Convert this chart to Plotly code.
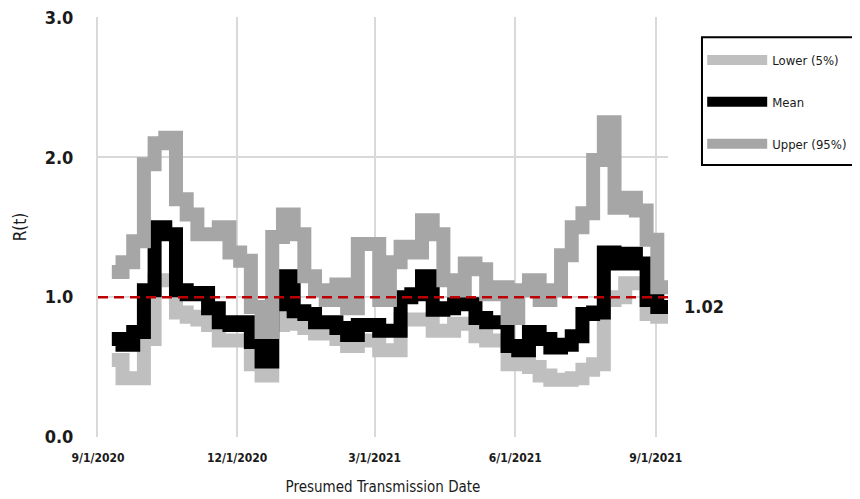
import plotly.graph_objects as go
import pandas as pd

dates = pd.date_range("2020-09-10", "2021-09-02", freq="7D").strftime("%Y-%m-%d").tolist() + ["2021-09-09"]

lower = [0.55, 0.42, 0.42, 0.70, 1.12, 1.12, 0.89, 0.86, 0.84, 0.80, 0.69, 0.69,
         0.69, 0.52, 0.44, 0.80, 0.94, 0.81, 0.78, 0.74, 0.74, 0.70, 0.65, 0.69,
         0.69, 0.62, 0.62, 0.84, 0.84, 0.84, 0.76, 0.76, 0.81, 0.81, 0.72, 0.69,
         0.69, 0.52, 0.55, 0.50, 0.44, 0.41, 0.41, 0.42, 0.48, 0.52, 0.98, 1.00,
         1.10, 1.10, 0.88, 0.86, 0.86]
mean = [0.70, 0.66, 0.75, 1.05, 1.50, 1.45, 1.05, 1.02, 1.03, 0.92, 0.82, 0.80,
        0.82, 0.68, 0.54, 0.95, 1.15, 0.90, 0.88, 0.82, 0.82, 0.78, 0.73, 0.80,
        0.80, 0.76, 0.76, 1.00, 1.02, 1.15, 0.91, 0.92, 0.95, 0.95, 0.85, 0.82,
        0.82, 0.65, 0.62, 0.75, 0.70, 0.64, 0.66, 0.72, 0.88, 0.89, 1.32, 1.24,
        1.31, 1.24, 0.98, 0.93, 0.93]
upper = [1.18, 1.25, 1.40, 1.95, 2.10, 2.14, 1.70, 1.59, 1.45, 1.45, 1.50, 1.32,
         1.26, 0.93, 0.75, 1.43, 1.59, 1.45, 1.15, 1.05, 0.98, 1.09, 0.92, 1.38,
         1.38, 0.98, 1.25, 1.36, 1.32, 1.55, 1.45, 1.12, 1.05, 1.24, 1.20, 1.02,
         1.07, 0.85, 1.05, 1.12, 0.98, 1.05, 1.30, 1.50, 1.60, 1.98, 2.25, 1.64,
         1.71, 1.62, 1.41, 1.07, 1.07]

series_names = ["Lower (5%)", "Mean", "Upper (95%)"]
series_colors = ["#bfbfbf", "#000000", "#a6a6a6"]

tick_dates = ["2020-09-01", "2020-12-01", "2021-03-01", "2021-06-01", "2021-09-01"]
tick_text = ["9/1/2020", "12/1/2020", "3/1/2021", "6/1/2021", "9/1/2021"]
y_ticks = [0, 1, 2, 3]
threshold = 1.0
latest_label = "1.02"

FONT = "Liberation Sans Narrow, DejaVu Sans Condensed, Roboto, sans-serif"
TXT = "#1a1a1a"

fig = go.Figure()
for i, (name, vals, col) in enumerate(zip(series_names, [lower, mean, upper], series_colors)):
    fig.add_trace(go.Scatter(
        x=dates, y=vals, name=name, mode="lines",
        line=dict(color=col, width=14, shape="hv"),
        legendgroup=f"g{i}",
    ))

fig.add_shape(type="line", xref="paper", yref="y", x0=0, x1=1, y0=threshold, y1=threshold,
              line=dict(color="#c00000", width=2.5, dash="10px,6px"), layer="above")

# legend frame
fig.add_shape(type="rect", xref="paper", yref="paper", x0=1.0596, x1=1.3298, y0=0.6476, y1=0.952,
              line=dict(color="#000000", width=2), fillcolor="rgba(0,0,0,0)", layer="above")

fig.add_annotation(x=1.0, xref="paper", y=0.93, yref="y", text=latest_label,
                   showarrow=False, xanchor="left", xshift=14,
                   font=dict(family=FONT, size=18, color=TXT, weight="bold"))

fig.update_layout(
    width=852, height=491,
    margin=dict(l=90, r=192, t=9, b=62, autoexpand=False),
    paper_bgcolor="white", plot_bgcolor="white",
    font=dict(family=FONT, color=TXT),
    showlegend=True,
    legend=dict(x=1.06, y=0.9334, xanchor="left", yanchor="top",
                borderwidth=0, bgcolor="rgba(0,0,0,0)",
                font=dict(family=FONT, size=13, color=TXT),
                tracegroupgap=22, itemwidth=60),
    xaxis=dict(range=["2020-08-31 23:00", "2021-09-09"], tickvals=tick_dates, ticktext=tick_text,
               showgrid=True, gridcolor="#d9d9d9", gridwidth=2,
               showline=False, zeroline=False, automargin=False,
               ticks="outside", ticklen=10, tickcolor="white",
               tickfont=dict(family=FONT, size=12, color=TXT, weight="bold"),
               title=dict(text="Presumed Transmission Date", standoff=17,
                          font=dict(family=FONT, size=15, color=TXT))),
    yaxis=dict(range=[0, 3.003], tickvals=y_ticks, tickformat=".1f",
               showgrid=True, gridcolor="#d9d9d9", gridwidth=2,
               showline=True, linecolor="#d9d9d9", linewidth=2,
               zeroline=False, automargin=False, ticklabeloverflow="allow",
               ticks="outside", ticklen=19, tickcolor="white",
               tickfont=dict(family=FONT, size=18, color=TXT, weight="bold"),
               title=dict(text="R(t)", standoff=14,
                          font=dict(family=FONT, size=17, color=TXT))),
)

fig.write_html("out.html")
